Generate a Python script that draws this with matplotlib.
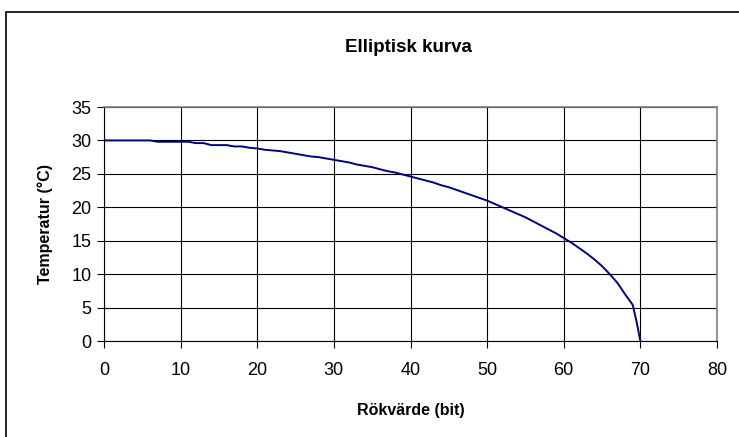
import matplotlib.pyplot as plt
from matplotlib.patches import Rectangle

plt.rcParams['font.family'] = ['Liberation Sans', 'DejaVu Sans']

rokvarde = [0, 1, 2, 3, 4, 5, 6, 7, 8, 9, 10, 11, 12, 13, 14, 15, 16, 17, 18, 19,
            20, 21, 22, 23, 24, 25, 26, 27, 28, 29, 30, 31, 32, 33, 34, 35, 36, 37,
            38, 39, 40, 41, 42, 43, 44, 45, 46, 47, 48, 49, 50, 51, 52, 53, 54, 55,
            56, 57, 58, 59, 60, 61, 62, 63, 64, 65, 66, 67, 68, 69, 69.5, 70]
temperatur = [30.0, 30.0, 30.0, 30.0, 30.0, 30.0, 30.0, 29.8, 29.8, 29.8, 29.8, 29.8,
              29.6, 29.6, 29.3, 29.3, 29.3, 29.1, 29.1, 28.9, 28.8, 28.6, 28.5, 28.4,
              28.2, 28.0, 27.8, 27.6, 27.5, 27.3, 27.1, 26.9, 26.7, 26.4, 26.2, 26.0,
              25.7, 25.4, 25.2, 24.9, 24.6, 24.3, 24.0, 23.7, 23.3, 23.0, 22.6, 22.2,
              21.8, 21.4, 21.0, 20.5, 20.0, 19.5, 19.0, 18.5, 17.9, 17.3, 16.7, 16.1,
              15.4, 14.7, 13.9, 13.1, 12.2, 11.2, 10.0, 8.7, 7.0, 5.4, 2.9, 0.0]

fig = plt.figure(figsize=(7.39, 4.37), dpi=100)

# outer chart border (cut off on the right and bottom)
fig.patches.append(Rectangle((6 / 739, -0.05), 1.0, 1 - 12 / 437 + 0.05,
                             transform=fig.transFigure, fill=False,
                             edgecolor='black', linewidth=1.2))

ax = fig.add_axes([104 / 739, 1 - 341 / 437, (717 - 104) / 739, (341 - 107) / 437])

ax.plot(rokvarde, temperatur, color='#000080', linewidth=1.4)

ax.set_xlim(0, 80)
ax.set_ylim(0, 35)
ax.set_xticks(range(0, 81, 10))
ax.set_yticks(range(0, 36, 5))
ax.grid(True, color='black', linewidth=0.8)
ax.set_axisbelow(True)

ax.tick_params(direction='out', length=5, width=0.8, labelsize=13)
ax.tick_params(axis='x', pad=10)
ax.tick_params(axis='y', pad=4)
for side in ['top', 'right']:
    ax.spines[side].set_color('#808080')
    ax.spines[side].set_linewidth(1.2)
for side in ['left', 'bottom']:
    ax.spines[side].set_linewidth(0.8)

ax.set_xlabel('Rökvärde (bit)', fontsize=11.5, fontweight='bold', va='center')
ax.xaxis.set_label_coords(0.5, (341 - 410) / 234)
ax.set_ylabel('Temperatur (°C)', fontsize=11.5, fontweight='bold',
              va='center', ha='center')
ax.yaxis.set_label_coords((45 - 104) / 613, 0.5)
fig.text(408 / 739, 1 - 47 / 437, 'Elliptisk kurva', fontsize=13.5,
         fontweight='bold', ha='center', va='center')

fig.savefig('out.png', dpi=100)
